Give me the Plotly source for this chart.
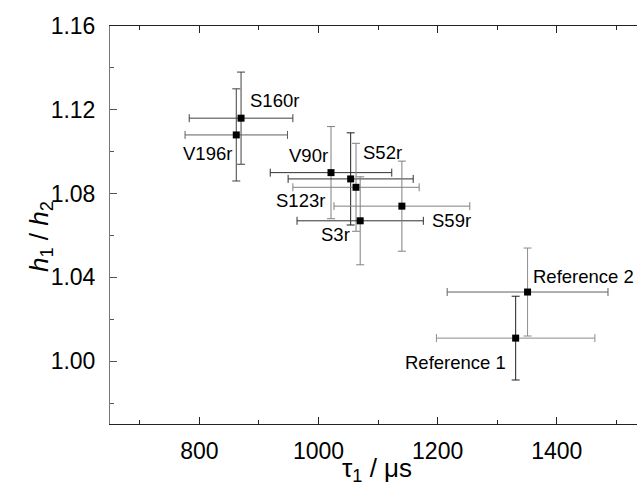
import plotly.graph_objects as go

# ---- data ----
labels = ["S160r", "V196r", "V90r", "S52r", "S123r", "S3r", "S59r", "Reference 2", "Reference 1"]
tau1 = [870, 862, 1021, 1054, 1063, 1070, 1140, 1351, 1331]
tau1_err = [87, 86, 102, 105, 106, 106, 114, 135, 133]
ratio = [1.116, 1.108, 1.090, 1.087, 1.083, 1.067, 1.074, 1.033, 1.011]
ratio_err = [0.022, 0.022, 0.022, 0.022, 0.021, 0.021, 0.0215, 0.021, 0.020]

x_ticks = [800, 1000, 1200, 1400]
y_ticks = [1.00, 1.04, 1.08, 1.12, 1.16]

# ---- styles ----
xerr_colors = ["#404040", "#606060", "#303030", "#303030", "#808080", "#303030", "#808080", "#606060", "#8c8c8c"]
yerr_colors = ["#404040", "#404040", "#808080", "#202020", "#808080", "#808080", "#808080", "#8c8c8c", "#202020"]
# label offsets in px (dx, dy) from the marker
label_dx = [33, -29, -23, 32, -56, -25, 50, 56, -60]
label_dy = [18, -19, 17, 26, -13, -14, -14, 16, -24]

FONT = "Liberation Sans, Arial, sans-serif"

fig = go.Figure()
for i in range(len(labels)):
    fig.add_trace(go.Scatter(
        x=[tau1[i]], y=[ratio[i]], mode="markers",
        marker=dict(symbol="square", size=7, color="black", line=dict(width=0)),
        error_x=dict(type="data", array=[tau1_err[i]], color=xerr_colors[i], thickness=1, width=4),
        error_y=dict(type="data", array=[ratio_err[i]], color=yerr_colors[i], thickness=1, width=4),
        showlegend=False, hoverinfo="skip",
    ))
    fig.add_annotation(x=tau1[i], y=ratio[i], xref="x", yref="y", text=labels[i],
                       showarrow=False, xshift=label_dx[i], yshift=label_dy[i],
                       xanchor="center", yanchor="middle",
                       font=dict(family=FONT, size=18.5, color="black"))

fig.add_annotation(text="τ<sub>1</sub> / μs", xref="paper", yref="paper", x=0.5066, y=-0.115,
                   showarrow=False, xanchor="center", yanchor="middle",
                   font=dict(family=FONT, size=26, color="black"))
fig.add_annotation(text="<i>h</i><sub>1</sub> / <i>h</i><sub>2</sub>", xref="paper", yref="paper",
                   x=-0.133, y=0.472, textangle=-90, showarrow=False, xanchor="center", yanchor="middle",
                   font=dict(family=FONT, size=26, color="black"))

fig.update_layout(
    width=637, height=496,
    margin=dict(l=110, r=0, t=25.5, b=71.7, pad=0),
    paper_bgcolor="white", plot_bgcolor="white",
    font=dict(family=FONT, color="black"),
    xaxis=dict(range=[650, 1534.7], tickvals=x_ticks, ticktext=[str(v) for v in x_ticks],
               ticks="inside", ticklen=7, tickwidth=1, tickcolor="#222",
               showline=True, linecolor="#222", linewidth=1, mirror="ticks",
               showgrid=False, zeroline=False,
               tickfont=dict(family=FONT, size=23, color="black"),
               ticklabelstandoff=6,
               minor=dict(tickvals=[700, 900, 1100, 1300, 1500], ticks="inside", ticklen=4,
                          tickcolor="#222", tickwidth=1, showgrid=False)),
    yaxis=dict(range=[0.97, 1.16], tickvals=y_ticks, ticktext=[f"{v:.2f}" for v in y_ticks],
               ticks="inside", ticklen=7, tickwidth=1, tickcolor="#555",
               showline=True, linecolor="#777", linewidth=1,
               showgrid=False, zeroline=False,
               tickfont=dict(family=FONT, size=23, color="black"),
               ticklabelstandoff=9,
               minor=dict(tickvals=[0.98, 1.02, 1.06, 1.10, 1.14], ticks="inside", ticklen=4,
                          tickcolor="#555", tickwidth=1, showgrid=False)),
)

fig.write_html("out.html")
